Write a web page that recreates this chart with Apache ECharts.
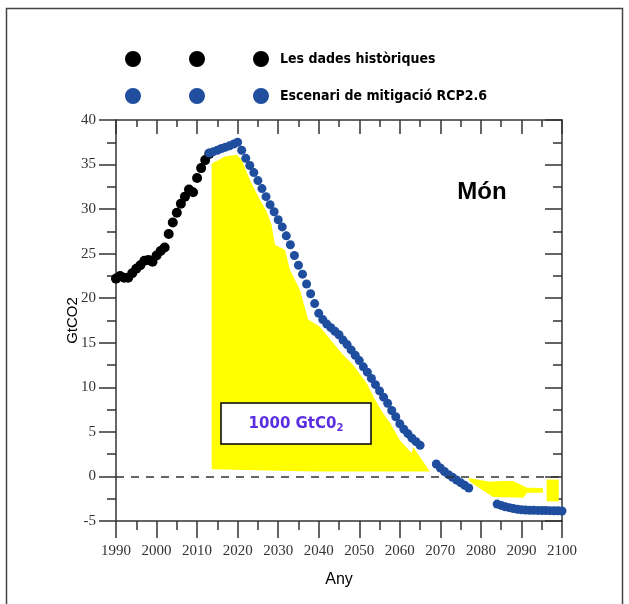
<!DOCTYPE html>
<html>
<head>
<meta charset="utf-8">
<script src="https://cdn.jsdelivr.net/npm/echarts@6/dist/echarts.min.js"></script>
<style>
html,body{margin:0;padding:0;background:#fff;}
#chart{width:629px;height:604px;}
</style>
</head>
<body>
<div id="chart"></div>
<script>
// ---- data ----
var histYears = [1990,1991,1992,1993,1994,1995,1996,1997,1998,1999,2000,2001,2002,2003,2004,2005,2006,2007,2008,2009,2010,2011,2012,2013];
var histValues = [22.2,22.5,22.3,22.3,22.8,23.3,23.7,24.2,24.3,24.1,24.8,25.3,25.7,27.2,28.5,29.6,30.6,31.4,32.2,31.9,33.5,34.6,35.5,36.2];

var scenYears = [2013,2014,2015,2016,2017,2018,2019,2020,2021,2022,2023,2024,2025,2026,2027,2028,2029,2030,
  2031,2032,2033,2034,2035,2036,2037,2038,2039,2040,2041,2042,2043,2044,2045,2046,2047,2048,2049,2050,
  2051,2052,2053,2054,2055,2056,2057,2058,2059,2060,2061,2062,2063,2064,2065,2066,2067,2068,2069,2070,
  2071,2072,2073,2074,2075,2076,2077,2078,2079,2080,2081,2082,2083,2084,2085,2086,2087,2088,2089,2090,
  2091,2092,2093,2094,2095,2096,2097,2098,2099,2100];
var scenValues = [36.3,36.45,36.6,36.8,36.95,37.1,37.3,37.5,36.6,35.7,34.9,34.1,33.2,32.3,31.4,30.5,29.7,28.8,
  28.0,27.0,26.0,24.8,23.7,22.7,21.6,20.5,19.4,18.3,17.6,17.1,16.7,16.3,15.9,15.3,14.8,14.2,13.6,13.0,
  12.3,11.7,11.0,10.3,9.6,8.9,8.2,7.4,6.7,5.9,5.3,4.8,4.3,3.9,3.5,null,null,null,1.4,0.95,
  0.55,0.2,-0.1,-0.4,-0.7,-1.0,-1.3,null,null,null,null,null,null,-3.1,-3.25,-3.4,-3.5,-3.6,-3.68,-3.74,
  -3.77,-3.79,-3.8,-3.81,-3.82,-3.83,-3.84,-3.85,-3.86,-3.88];

// cumulative-budget shading (year, GtCO2) outlines
var budgetMain = [[2013.6,0.8],[2013.6,35.1],[2016.9,35.9],[2019.8,36.1],[2021.0,35.5],[2023.0,33.3],[2025.1,31.4],
  [2027.2,29.7],[2028.4,28.2],[2029.2,26.0],[2031.7,25.4],[2032.9,23.2],[2035.4,20.9],[2037.4,17.6],[2040.3,16.8],
  [2045.7,13.8],[2048.5,12.5],[2051.8,10.5],[2053.9,8.6],[2055.9,7.1],[2057.6,6.0],[2060.0,4.1],[2062.9,2.6],
  [2063.3,3.3],[2067.4,0.55],[2040.0,0.55],[2033.0,0.6],[2013.6,0.8]];
var budgetNeg = [[2076.9,-0.18],[2082.2,-0.6],[2085.4,-0.5],[2087.9,-0.5],[2091.4,-1.27],[2095.3,-1.3],[2095.3,-1.83],
  [2091.4,-1.83],[2090.4,-2.4],[2083.0,-2.3],[2077.3,-0.6]];
var budgetRect = [[2096.2,-0.35],[2099.2,-0.35],[2099.2,-2.8],[2096.2,-2.8]];

var xTicks = {min:1990, max:2100, step:10};
var yTicks = {min:-5, max:40, step:5};

var seriesNames = ['Les dades històriques', 'Escenari de mitigació RCP2.6'];
var budgetLabel = '1000 GtC0';
var regionLabel = 'Món';

// ---- chart ----
var chart = echarts.init(document.getElementById('chart'), null, {renderer:'canvas'});

var histData = histYears.map(function(y,i){return [y, histValues[i]];});
var scenData = [];
scenYears.forEach(function(y,i){ if (scenValues[i] !== null) scenData.push([y, scenValues[i]]); });
var shapes = [budgetMain, budgetNeg, budgetRect];

var SERIF = '"Liberation Serif","Times New Roman",serif';
var NARROW = '"Liberation Sans Narrow","DejaVu Sans Condensed","Liberation Sans",sans-serif';
var SANS = '"Liberation Sans",Arial,sans-serif';
var AX = '#333';
var BLUE = '#1f4e9e';

function xAxisCfg(pos){
  var bottom = pos === 'bottom';
  return {
    type:'value', position:pos, min:xTicks.min, max:xTicks.max, interval:xTicks.step,
    name: bottom ? 'Any' : '', nameLocation:'middle', nameGap:51,
    nameTextStyle:{fontFamily:SANS, fontSize:16, color:'#000'},
    axisLine:{show:true, onZero:false, lineStyle:{color:AX, width:1.5}},
    axisTick:{show:true, inside:!bottom, length: bottom ? 17 : 14, lineStyle:{color:AX, width:1.5}},
    minorTick:{show:true, splitNumber:2, length: bottom ? 9 : 7, lineStyle:{color:AX, width:1.5}},
    splitLine:{show:false},
    axisLabel:{show:bottom, fontFamily:SERIF, fontSize:15, color:'#333', margin:23,
               formatter:function(v){ return String(v); }}
  };
}
function yAxisCfg(pos){
  var left = pos === 'left';
  return {
    type:'value', position:pos, min:yTicks.min, max:yTicks.max, interval:yTicks.step,
    name: left ? 'GtCO2' : '', nameLocation:'middle', nameGap:36, nameRotate:90,
    nameMoveOverlap:false,
    nameTextStyle:{fontFamily:SANS, fontSize:15, color:'#000'},
    axisLine:{show:true, onZero:false, lineStyle:{color:AX, width:1.5}},
    axisTick:{show:true, inside:!left, length:17, lineStyle:{color:AX, width:1.5}},
    minorTick:{show:true, splitNumber:2, length:9, lineStyle:{color:AX, width:1.5}},
    splitLine:{show:false},
    axisLabel:{show:left, fontFamily:SERIF, fontSize:15, color:'#333', margin:20,
               formatter:function(v){ return String(v); }}
  };
}

var option = {
  animation:false,
  backgroundColor:'#fff',
  grid:{left:116, right:67, top:120, bottom:83, containLabel:false},
  legend:{
    orient:'vertical', left:120, top:46, itemWidth:144, itemHeight:16, itemGap:21,
    icon:'path://M0,8A8,8,0,1,0,16,8A8,8,0,1,0,0,8Z M64,8A8,8,0,1,0,80,8A8,8,0,1,0,64,8Z M128,8A8,8,0,1,0,144,8A8,8,0,1,0,128,8Z',
    textStyle:{fontFamily:NARROW, fontWeight:'bold', fontSize:14, color:'#000', padding:[0,0,0,6]},
    data:seriesNames,
    selectedMode:false
  },
  xAxis:[xAxisCfg('bottom'), xAxisCfg('top')],
  yAxis:[yAxisCfg('left'), yAxisCfg('right')],
  series:[
    {
      type:'custom', name:'budget', xAxisIndex:0, yAxisIndex:0, z:1, silent:true,
      data: shapes.map(function(s,i){ return [s[0][0], s[0][1], i]; }),
      renderItem:function(params, api){
        var pts = shapes[api.value(2)].map(function(p){ return api.coord(p); });
        return {type:'polygon', shape:{points:pts}, style:{fill:'#ffff00'}};
      },
      markLine:{
        silent:true, symbol:'none', label:{show:false},
        lineStyle:{color:'#333', type:[8,7], width:1.5},
        data:[{yAxis:0}]
      }
    },
    {
      type:'scatter', name:seriesNames[0], xAxisIndex:0, yAxisIndex:0, z:3,
      symbol:'circle', symbolSize:10, itemStyle:{color:'#000', opacity:1}, data:histData
    },
    {
      type:'scatter', name:seriesNames[1], xAxisIndex:0, yAxisIndex:0, z:4,
      symbol:'circle', symbolSize:9, itemStyle:{color:BLUE, opacity:1}, data:scenData
    }
  ],
  graphic:[
    {type:'rect', silent:true, z:-10, shape:{x:6.5, y:8.5, width:616, height:640},
     style:{fill:'none', stroke:'#444', lineWidth:1.5}},
    {type:'rect', silent:true, z:50, shape:{x:221, y:403, width:150, height:41},
     style:{fill:'#fff', stroke:'#000', lineWidth:1.5}},
    {type:'text', silent:true, z:51, x:296, y:424,
     style:{text:budgetLabel + '{s|2}', fontFamily:'"DejaVu Sans",Verdana,sans-serif', fontWeight:'bold',
            fontSize:15, fill:'#5b2de0', align:'center', verticalAlign:'middle',
            rich:{s:{fontSize:10, fontWeight:'bold', fontFamily:'"DejaVu Sans",Verdana,sans-serif', fill:'#5b2de0', padding:[8,0,0,0]}}}},
    {type:'text', silent:true, z:51, x:482, y:192,
     style:{text:regionLabel, fontFamily:SANS, fontWeight:'bold', fontSize:24, fill:'#000', align:'center', verticalAlign:'middle'}}
  ]
};
chart.setOption(option);
</script>
</body>
</html>
